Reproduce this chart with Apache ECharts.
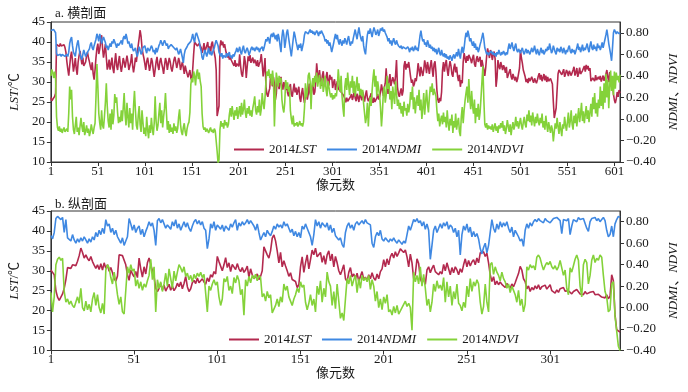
<!DOCTYPE html>
<html><head><meta charset="utf-8">
<script src="https://cdn.jsdelivr.net/npm/echarts@6/dist/echarts.min.js"></script>
<style>html,body{margin:0;padding:0;background:#fff}#c{width:688px;height:392px}</style>
</head><body><div id="c"></div>
<script>
// ---- a. 横剖面 (transverse profile), pixel index 1..607 ----
const topLST = [
26.1,25.3,24.8,25.6,26.4,27.2,
39.4,39.8,39.1,38.9,39.6,39.0,39.5,38.8,39.3,38.6,
37.4,35.1,33.2,31.6,34.0,36.4,
37.6,35.2,32.6,34.1,36.0,33.3,31.8,35.0,
36.6,37.8,36.0,34.4,36.1,34.0,
33.5,35.0,36.6,37.5,36.0,35.1,33.9,33.0,
34.9,32.1,30.6,33.0,36.1,38.4,
39.6,37.0,38.2,40.1,41.7,38.5,
36.1,37.6,39.5,36.2,33.1,34.0,35.6,33.1,
34.5,36.1,33.4,32.2,35.0,37.2,34.1,33.0,35.1,36.5,34.0,32.5,34.1,36.0,35.0,33.6,
34.0,36.6,35.1,33.0,32.5,35.0,37.0,34.1,32.4,34.0,36.1,35.0,
37.1,39.2,41.0,43.0,41.4,38.6,37.1,36.0,
34.6,33.0,35.1,36.1,34.5,32.8,34.0,36.0,35.1,33.0,31.3,33.1,
35.0,36.3,34.1,33.0,35.1,36.0,34.6,33.5,32.0,34.1,36.0,35.1,33.0,34.6,
36.0,35.1,33.5,32.6,34.0,35.5,36.3,35.0,33.5,34.6,36.0,35.1,33.0,34.1,
35.0,33.6,32.0,34.1,33.0,32.1,31.2,31.6,33.0,31.0,
30.4,33.2,37.0,40.0,39.5,40.5,39.0,38.8,39.6,40.0,
38.6,37.3,38.2,39.7,37.6,38.4,
39.1,40.0,37.6,38.9,37.1,39.5,40.1,38.3,37.2,36.0,33.0,
21.5,21.3,24.0,
38.8,40.4,39.2,40.1,38.6,39.5,38.0,
37.0,36.1,37.2,35.6,36.4,35.5,36.0,
35.2,34.0,35.5,33.8,34.6,35.0,33.9,
36.9,34.0,32.0,31.3,33.5,36.5,35.0,31.0,33.8,
36.4,35.2,36.7,34.8,35.5,36.1,34.7,35.6,35.0,
34.0,35.5,33.8,34.6,35.2,
37.0,34.5,31.4,33.2,36.0,
28.8,27.0,26.3,27.5,28.4,
31.8,30.0,28.9,31.2,29.5,25.5,
27.0,31.0,30.1,28.2,29.5,31.3,29.0,28.1,30.0,29.2,
28.0,29.7,27.3,26.4,28.5,29.5,27.0,26.3,28.1,29.6,27.4,28.6,26.8,27.9,
28.8,26.0,25.0,27.3,28.5,26.2,24.8,26.5,28.3,25.6,27.0,
29.6,27.2,26.4,28.6,29.4,26.8,27.5,30.0,
34.7,32.0,30.2,
33.0,30.5,29.0,31.6,32.7,30.0,28.9,31.2,32.5,30.4,29.1,31.8,30.6,
31.3,28.5,29.8,30.7,28.0,29.2,30.2,
28.3,27.8,28.5,27.5,28.0,27.2,26.5,
25.8,24.9,26.1,25.2,24.7,25.6,26.3,
27.0,25.5,26.4,28.0,26.0,25.2,27.1,26.0,25.0,27.5,26.3,25.4,27.6,26.2,25.1,26.8,27.9,
26.0,25.2,24.7,26.4,27.2,25.5,24.8,26.1,25.0,24.7,26.0,27.0,25.6,26.3,
27.5,29.4,28.0,26.5,28.6,29.7,33.4,29.2,27.0,
30.5,32.0,29.0,28.8,31.2,30.3,29.4,31.6,35.5,
28.8,27.0,26.3,27.5,28.4,26.6,27.8,
34.0,35.2,33.1,34.5,33.6,35.0,35.5,
31.3,29.8,30.6,28.9,29.5,31.0,30.2,
32.0,34.7,33.1,31.4,33.8,34.2,31.5,
33.0,35.4,34.1,32.2,35.0,33.6,32.0,
34.0,35.5,33.2,31.3,34.5,35.2,32.5,
28.0,25.6,24.8,26.0,25.2,27.5,
33.0,35.0,32.6,34.4,35.5,33.1,31.5,33.8,35.2,34.0,32.0,31.3,33.5,34.6,32.4,
33.8,31.5,30.2,31.8,28.8,30.5,29.7,
35.0,37.2,36.0,34.8,36.5,35.3,36.8,37.0,35.6,34.7,
36.0,36.8,34.5,33.8,35.7,36.5,35.0,
34.8,36.3,33.8,35.5,34.2,33.0,31.5,
33.6,36.5,38.4,37.2,36.0,38.0,37.1,35.5,36.8,37.6,35.8,
28.8,31.0,
35.5,34.0,33.2,35.0,34.6,33.0,34.2,33.5,
32.3,33.8,31.0,30.5,32.5,33.2,31.4,30.6,32.0,31.2,
30.4,31.3,30.0,30.8,31.0,33.5,
38.0,36.0,34.7,33.0,32.2,
31.3,30.0,30.8,29.7,31.0,30.2,29.9,31.3,30.4,29.8,30.9,31.2,29.7,30.5,
31.5,32.2,30.6,31.8,30.2,31.0,32.0,30.4,31.6,30.0,
31.3,30.2,29.7,30.9,31.0,29.5,
25.0,21.0,20.5,23.5,28.0,32.0,
33.0,32.6,33.4,31.8,32.5,33.2,31.3,32.0,33.0,32.4,31.5,32.8,33.3,31.6,32.1,
33.0,33.8,31.6,32.4,33.5,31.3,32.2,33.6,32.0,31.5,32.8,33.4,
34.0,32.6,34.3,33.2,34.0,32.8,33.5,
30.2,29.7,31.0,
31.0,30.2,31.7,30.5,30.0,31.3,30.6,31.5,30.1,30.8,31.6,30.3,31.0,32.0,
33.0,31.2,30.0,32.5,29.4,28.8,30.0,
27.0,25.5,24.7,25.8,
27.5,26.3,28.0,27.2
];
const topNDMI = [
0.82,0.83,0.82,0.83,0.82,0.80,
0.61,0.59,0.60,0.59,0.60,0.58,0.60,0.59,0.60,0.58,0.59,0.60,0.58,0.62,
0.70,0.74,0.76,0.68,0.62,0.60,0.58,0.65,0.70,0.73,
0.66,0.60,0.57,0.55,0.60,0.64,0.63,0.58,0.60,0.62,
0.61,0.65,0.69,0.71,0.66,0.64,0.68,0.67,0.74,0.79,
0.76,0.72,0.79,0.75,0.70,0.73,0.76,0.77,0.71,0.66,
0.68,0.64,0.65,0.70,0.67,0.72,0.70,0.74,0.74,0.69,
0.66,0.70,0.68,0.67,0.71,0.73,0.69,0.75,0.77,0.74,
0.79,0.75,0.70,0.72,0.68,0.66,0.70,0.65,0.63,0.62,
0.66,0.61,0.58,0.62,0.67,0.64,0.60,0.62,0.66,0.65,
0.68,0.64,0.61,0.66,0.65,0.63,0.63,0.68,0.66,0.62,
0.64,0.60,0.66,0.62,0.65,0.68,0.70,0.73,0.72,0.68,
0.71,0.73,0.72,0.68,0.70,0.65,0.67,0.66,0.69,0.70,
0.69,0.66,0.67,0.64,0.66,0.63,0.60,0.62,0.65,0.61,
0.57,0.52,0.60,0.64,0.65,0.67,0.69,0.68,0.69,0.72,
0.75,0.79,0.74,0.71,0.78,0.80,0.80,0.79,0.72,0.66,
0.63,0.57,0.55,0.60,0.64,0.61,0.58,0.62,0.66,0.60,
0.63,0.59,0.61,0.64,0.66,0.70,0.73,0.72,0.68,0.62,
0.60,0.58,0.61,0.56,0.59,0.60,0.57,0.61,0.58,0.60,
0.62,0.57,0.59,0.56,0.60,0.58,0.61,0.63,0.66,0.62,
0.64,0.67,0.62,0.60,0.65,0.68,0.63,0.61,0.64,0.66,
0.63,0.59,0.62,0.65,0.67,0.64,0.66,0.63,0.65,0.67,
0.64,0.66,0.62,0.65,0.64,0.67,0.63,0.66,0.70,0.74,
0.72,0.76,0.74,0.70,0.77,0.79,0.76,0.80,0.77,0.74,
0.78,0.72,0.79,0.75,0.68,0.62,0.76,0.83,0.78,0.66,
0.72,0.80,0.83,0.76,0.70,0.64,0.58,0.66,0.74,0.81,
0.77,0.72,0.68,0.64,0.69,0.66,0.70,0.63,0.67,0.71,
0.78,0.81,0.80,0.82,0.79,0.81,0.83,0.80,0.82,0.79,
0.81,0.78,0.80,0.82,0.80,0.77,0.81,0.79,0.82,0.80,
0.78,0.76,0.72,0.74,0.70,0.73,0.68,0.71,0.67,0.62,
0.66,0.70,0.75,0.79,0.74,0.78,0.72,0.69,0.74,0.71,
0.68,0.73,0.70,0.75,0.72,0.69,0.74,0.77,0.71,0.68,
0.72,0.70,0.75,0.79,0.83,0.78,0.74,0.80,0.85,0.79,
0.75,0.72,0.77,0.68,0.63,0.60,0.70,0.78,0.82,0.79,
0.84,0.80,0.76,0.81,0.85,0.82,0.78,0.80,0.83,0.77,
0.80,0.84,0.82,0.85,0.81,0.83,0.80,0.79,0.76,0.72,
0.75,0.70,0.73,0.68,0.72,0.75,0.71,0.69,0.73,0.70,
0.68,0.67,0.66,0.68,0.65,0.67,0.66,0.68,0.65,0.64,
0.67,0.65,0.62,0.66,0.64,0.67,0.63,0.65,0.68,0.64,
0.66,0.63,0.70,0.77,0.82,0.76,0.72,0.74,0.69,0.71,
0.67,0.73,0.70,0.66,0.69,0.65,0.67,0.63,0.66,0.62,
0.65,0.60,0.63,0.66,0.61,0.59,0.64,0.60,0.58,0.61,
0.57,0.60,0.56,0.58,0.55,0.59,0.57,0.54,0.58,0.60,
0.56,0.59,0.62,0.58,0.65,0.60,0.56,0.63,0.67,0.61,
0.66,0.74,0.80,0.76,0.82,0.78,0.72,0.75,0.71,0.68,
0.72,0.66,0.70,0.64,0.67,0.62,0.65,0.69,0.72,0.76,
0.80,0.74,0.66,0.63,0.60,0.62,0.59,0.61,0.60,0.63,
0.60,0.62,0.59,0.61,0.58,0.62,0.60,0.64,0.61,0.59,
0.62,0.60,0.63,0.61,0.59,0.62,0.60,0.66,0.70,0.65,
0.68,0.71,0.66,0.63,0.67,0.70,0.64,0.62,0.65,0.63,
0.61,0.64,0.66,0.62,0.60,0.63,0.65,0.61,0.64,0.62,
0.60,0.63,0.66,0.62,0.64,0.68,0.63,0.60,0.65,0.62,
0.59,0.63,0.66,0.61,0.64,0.60,0.62,0.65,0.63,0.67,
0.64,0.70,0.66,0.61,0.63,0.68,0.65,0.62,0.60,0.66,
0.63,0.65,0.62,0.67,0.64,0.61,0.66,0.63,0.60,0.64,
0.62,0.66,0.68,0.63,0.61,0.65,0.62,0.64,0.60,0.63,
0.66,0.70,0.64,0.67,0.62,0.65,0.69,0.63,0.66,0.64,
0.67,0.70,0.65,0.62,0.68,0.72,0.66,0.64,0.69,0.65,
0.67,0.63,0.70,0.66,0.68,0.64,0.67,0.71,0.66,0.70,
0.74,0.78,0.83,0.77,0.70,0.65,0.60,0.54,0.66,0.80,
0.83,0.82,0.79,0.81,0.80,0.79,0.80
];
const topNDVI = [
0.40,0.46,0.43,0.38,0.44,0.37,
0.02,-0.08,-0.11,-0.07,-0.12,-0.09,-0.13,-0.10,-0.08,-0.12,-0.11,-0.09,-0.12,0.05,
0.30,0.18,0.27,0.02,-0.10,-0.14,-0.06,0.02,-0.12,-0.08,
-0.15,-0.16,0.01,-0.07,-0.12,-0.03,-0.15,-0.11,-0.06,-0.13,
-0.09,-0.16,-0.12,-0.05,-0.10,-0.14,-0.08,-0.04,0.20,0.51,
0.30,0.05,-0.04,-0.10,0.08,-0.06,-0.09,0.02,0.15,0.33,
0.12,-0.02,-0.08,0.05,-0.10,0.09,-0.05,0.03,0.23,0.15,
0.20,0.06,-0.04,0.02,-0.03,0.08,-0.02,0.10,0.24,0.04,
-0.06,0.15,0.02,-0.08,0.10,-0.04,0.05,-0.10,0.12,0.26,
0.08,-0.06,-0.10,0.03,0.12,-0.05,-0.12,0.08,-0.03,-0.14,
-0.08,-0.16,0.02,-0.10,-0.18,-0.06,-0.13,0.01,-0.09,-0.15,
-0.04,0.21,-0.02,-0.11,-0.06,0.05,0.15,-0.04,0.08,-0.08,
0.02,0.10,0.24,0.06,-0.10,-0.02,-0.13,-0.05,-0.12,-0.08,
-0.14,-0.04,-0.11,-0.07,-0.13,-0.09,0.02,0.09,-0.05,-0.12,
-0.15,-0.08,-0.04,-0.12,-0.16,-0.09,-0.05,-0.03,0.06,0.32,
0.38,0.34,0.44,0.40,0.31,0.42,0.46,0.37,0.43,0.35,
0.30,0.05,-0.07,-0.10,-0.08,-0.12,-0.09,-0.11,-0.13,-0.10,
-0.08,-0.12,-0.10,-0.13,-0.09,-0.11,-0.12,-0.30,-0.41,-0.38,
-0.10,-0.02,-0.07,-0.04,-0.09,-0.01,-0.06,-0.03,-0.08,-0.05,
0.04,0.10,0.02,0.12,0.05,-0.01,0.08,0.03,0.11,0.00,
0.06,0.12,0.02,0.15,0.04,0.09,0.18,0.06,0.01,0.10,
0.05,0.12,0.03,0.08,0.02,0.10,0.15,0.21,0.08,0.04,
0.12,0.06,0.18,0.03,0.09,0.24,0.15,0.09,0.20,0.35,
0.44,0.40,0.46,0.38,0.42,0.31,0.45,0.36,-0.07,0.20,
0.43,0.37,0.30,0.40,0.34,0.38,0.18,0.10,0.06,0.15,
0.36,0.28,0.34,0.25,0.30,0.08,0.00,-0.05,0.03,-0.07,
-0.04,-0.06,-0.03,-0.07,-0.05,-0.02,-0.06,-0.04,-0.07,-0.03,
0.10,0.33,0.20,0.25,0.40,0.43,0.35,0.09,0.32,0.38,
0.30,0.40,0.34,0.43,0.30,0.36,0.41,0.28,0.33,0.38,
0.25,0.31,0.40,0.27,0.21,0.35,0.30,0.24,0.20,0.24,
0.18,0.22,0.19,0.24,0.21,0.30,0.46,0.35,0.25,0.40,
0.21,0.10,0.02,0.30,0.38,0.27,0.43,0.32,0.22,0.35,
0.29,0.40,0.24,0.35,0.21,0.30,0.39,0.26,0.33,0.22,
0.28,0.21,0.27,0.14,0.05,-0.04,0.02,0.15,-0.07,0.10,
0.20,0.12,0.26,0.38,0.46,0.30,0.40,0.21,0.35,0.28,
0.22,0.10,-0.07,0.06,0.25,0.30,0.15,0.22,0.40,0.28,
0.33,0.18,0.26,0.09,0.30,0.21,0.14,0.35,0.24,0.12,
0.18,0.09,0.15,0.05,0.12,0.02,0.16,0.08,0.10,0.03,
0.14,0.06,0.12,0.25,0.18,0.30,0.09,0.20,0.05,0.15,
0.22,0.12,0.27,0.08,0.18,0.00,0.10,0.24,0.04,0.16,
0.27,0.14,0.06,0.20,0.30,0.25,0.33,0.22,0.28,0.24,
0.21,0.08,-0.02,0.05,-0.07,-0.01,0.03,-0.05,0.06,-0.03,
0.02,-0.08,0.08,-0.04,-0.11,0.00,-0.06,0.04,-0.13,-0.02,
-0.08,0.05,-0.10,-0.03,0.01,-0.12,-0.16,0.02,0.11,-0.04,
0.08,0.17,0.24,0.30,0.15,0.37,0.20,0.09,0.26,0.12,
0.05,0.18,-0.04,0.10,0.02,0.14,-0.01,0.06,0.20,0.35,
0.49,0.18,-0.05,-0.08,-0.04,-0.10,-0.06,-0.09,-0.07,-0.10,
-0.05,-0.12,-0.08,-0.04,-0.11,-0.07,-0.13,-0.06,-0.09,-0.04,
-0.08,-0.02,-0.11,-0.06,-0.14,-0.09,-0.01,-0.07,-0.12,-0.05,
-0.15,-0.08,-0.03,-0.10,-0.06,0.02,-0.07,-0.02,-0.09,-0.04,
0.01,-0.06,-0.10,-0.03,0.02,-0.05,-0.08,0.04,-0.02,0.08,
-0.03,0.03,-0.06,0.06,-0.01,-0.07,0.02,-0.04,0.05,-0.02,
-0.06,0.01,-0.04,0.05,-0.08,-0.02,-0.10,0.03,-0.05,-0.12,
-0.03,-0.08,-0.13,-0.06,-0.10,-0.21,-0.12,-0.04,-0.09,0.01,
-0.07,-0.14,-0.03,-0.10,-0.16,-0.05,-0.09,0.02,-0.06,-0.11,
-0.03,0.06,-0.08,-0.02,0.08,-0.05,-0.10,0.03,-0.04,0.05,
-0.07,0.02,0.10,-0.03,0.05,0.15,-0.02,0.07,-0.04,0.04,
0.12,0.00,0.08,-0.03,0.06,0.14,0.02,0.20,0.09,0.24,
0.05,0.15,0.02,0.18,0.10,0.30,0.12,0.26,0.09,0.33,
0.15,0.42,0.20,0.36,0.10,0.30,0.45,0.26,0.40,0.22,
0.44,0.28,0.43,0.36,0.40,0.34,0.41
];
// ---- b. 纵剖面 (longitudinal profile), pixel index 1..343 ----
const botLST = [
30.2,29.6,29.0, 25.0,23.4, 22.6,22.4, 24.2,25.6,27.8,
30.8,31.2,30.6,31.5, 32.0,31.3,32.4,33.8, 35.7,34.6,33.2,
34.0,33.1,32.5,33.6,32.3, 31.4,30.6,31.5,30.3,
31.8,30.2,32.0,30.6,31.5,29.9,30.8, 29.5,28.0,27.4,28.7,
34.0,34.3,33.8,34.1, 31.5,29.0,27.6,30.2, 29.2,28.5,29.8,28.3,
33.2,30.5,28.4,31.0,29.2,32.0, 33.2,31.5,30.0,28.5, 25.6,24.8,
25.6,26.8,25.2,26.4,24.9,25.8,26.6,25.1,26.2,25.0,25.7,26.9,
26.0,27.2,25.5,26.8,28.6,26.0,24.8,
25.5,27.0,27.6,26.8,28.2,27.0,26.5,28.0,27.2,26.6,
28.2,27.3,29.0,28.4,29.8,29.2, 33.6,32.3,32.8,
30.0,31.5,33.3,30.8,32.0,29.8,31.6,
32.0,30.3,31.8,30.5,29.8,30.8,29.6,30.2,
31.2,28.4,30.5,29.0,28.0,27.5,29.2,27.8, 28.6,30.0,
36.0,36.5,34.0, 33.2,35.0, 38.2,39.0,37.5, 35.0,32.0,34.6,31.0,
32.5,31.2,30.0, 28.6,29.5,27.8,28.3,27.3, 25.8,26.5,
31.0,33.5,29.6,32.0,34.0,30.5,32.8, 35.2,34.0,35.7,33.5,
33.0,34.6,32.1,33.8,31.6,34.0, 35.0,32.5,34.2,31.0,33.6,32.0,
30.0,29.0,30.2,31.5, 28.0,27.3,29.6,30.8,28.5,29.2,
28.0,29.4,27.4,28.6,29.8,27.8, 28.4,27.5,29.0,28.0,
29.5,28.2,27.6,29.2,28.0,29.8, 30.5,32.8,31.0,33.0,31.5,
33.5,34.4,33.2,34.8,33.6,34.5, 35.5,36.0,34.6,35.2, 33.5,31.0,34.2,32.0,
28.0,29.2, 33.0,31.8, 28.0,27.0,28.2,26.6,
30.2,31.0,29.5,30.6,31.4,29.8, 29.5,29.0,29.8,29.2, 31.6,30.0,32.0,30.5,
29.0,30.8,29.5,31.0, 30.2,29.0,30.5,29.6, 31.5,33.0,31.0,32.6,31.2,32.2,
32.8,31.5,33.2,32.0, 34.5,34.0,34.8,33.6, 34.4,32.0,
29.0,27.3,28.5,26.5, 27.4,26.5,27.2,26.6, 27.0,25.8,26.8,26.2,25.6,26.7,
26.0,27.0,28.2,29.3, 31.1,30.2,28.0, 27.3,25.5,26.2,24.8,25.8,25.2,
26.2,25.5,26.5,25.3,26.0,25.6,26.4,25.4, 25.8,26.5,25.0,25.5,24.4,25.2,24.6,25.5,
25.0,25.8,24.9,24.4,25.0,24.6, 24.2,24.8,24.3,25.3,24.8,24.2,
24.6,24.0,24.8,24.2,23.8,24.6, 24.2,24.8,24.0,24.5,24.1,23.8,
23.4,23.8,23.2,24.0,23.0,23.6, 29.0,27.5, 19.0,15.2,14.8,14.6
];
const botNDMI = [
0.67,0.64,0.70, 0.83,0.85,0.84,0.82,0.84, 0.70,0.82, 0.65,0.66,0.62,0.68,
0.63,0.60,0.64,0.61,0.65,0.62,0.66,0.63,0.60,0.64,0.61,0.66,0.63,
0.70,0.66,0.72,0.68,0.74,0.69, 0.82,0.76, 0.78,0.70,0.74,0.68,0.72,0.66,
0.63,0.60,0.65,0.58,0.62,0.66, 0.83,0.78, 0.72,0.77,0.70,0.74,
0.76,0.68,0.73,0.66,0.71,0.75, 0.80,0.76,0.79,0.72, 0.58,
0.81,0.83,0.79,0.82,0.78, 0.74,0.77,0.75,0.73, 0.80,0.76,0.82,0.74,
0.78,0.72,0.76,0.80,0.75, 0.79,0.74,0.71,0.76, 0.80,0.82,0.78,0.81,0.77,0.80,
0.74,0.72, 0.55,0.64, 0.78,0.74,0.80,0.72,0.77,0.75, 0.73,0.77,0.71,0.76,0.74,0.72,
0.78,0.75,0.79, 0.82,0.72,0.79, 0.76,0.80,0.77,0.79, 0.82,0.78,0.81,0.80,
0.76,0.72,0.78,0.70, 0.63,0.62, 0.70,0.66,0.72,0.69,0.67,0.71, 0.76,0.73,0.78,0.75,0.77,0.74,
0.80,0.76,0.78,0.74, 0.70,0.73,0.67,0.71, 0.66,0.70,0.65, 0.76,0.73,0.78,0.74,0.70,
0.66,0.58,0.68, 0.82,0.76,0.80,0.74,0.79,0.77, 0.75,0.79,0.72,0.77,0.70,0.74,
0.67,0.68,0.63,0.65, 0.59,0.56, 0.70,0.76,0.79, 0.74,0.77,0.72, 0.78,0.80,0.77,0.79,
0.81,0.78,0.82,0.79,0.80,0.77, 0.60,0.56,0.66, 0.70,0.67,0.72,
0.64,0.62,0.65,0.63,0.61,0.64,0.62,0.65, 0.62,0.60,0.63,0.61, 0.59,0.62,0.60,0.68,
0.76,0.72,0.77, 0.82,0.80,0.83,0.79, 0.81,0.76,0.80,0.73,0.78,0.72, 0.45,0.58,
0.72,0.76,0.70,0.74, 0.78,0.74,0.79,0.76,0.80,0.73,0.77,0.75, 0.70,0.74,0.66,0.72, 0.49,
0.68,0.76,0.72,0.78,0.70,0.75,0.66, 0.71,0.66,0.69,0.64, 0.55,0.50,0.56,0.60, 0.51,0.58,
0.70,0.82,0.74,0.70, 0.78,0.73,0.80,0.75, 0.79,0.76,0.80,0.74, 0.70,0.75,0.66,0.72,0.69,
0.66,0.62,0.64,0.57, 0.72,0.78,0.74,0.79,0.76,0.80, 0.82,0.80,0.83,0.81,0.82,0.79,0.83,0.81,
0.82,0.79,0.80,0.83, 0.82,0.84,0.83,0.81, 0.69, 0.82,0.83,0.81,0.83, 0.68,0.76,
0.82,0.83,0.80,0.84,0.82,0.81,0.83,0.82, 0.74,0.71,
0.80,0.83,0.82,0.84,0.81,0.83,0.80,0.82,0.84,0.81, 0.72,0.66,0.68, 0.76,0.66, 0.78,0.82,0.85,0.84
];
const botNDVI = [
0.14,-0.04,0.10, 0.40,0.45,0.47,0.44,0.46, 0.15,0.05, 0.08,0.03,0.06,0.02, 0.00,-0.01,
0.10,0.04,0.18,0.00,-0.03,0.06, -0.02,0.03,-0.04,0.08, 0.14,0.02,0.12,0.00,
-0.05,0.04,-0.06, 0.35,0.40,0.37, 0.28,0.22,0.33,0.24, 0.12,0.03,0.10,-0.04, -0.06,-0.05,
0.38,0.32,0.40,0.34,0.36, 0.20,0.26, 0.18,0.24,0.16,0.22,0.19,0.25, 0.30,0.45,0.26,0.38, -0.04,
0.26,0.18,0.24,0.15,0.22, 0.32,0.20,0.36,0.27,0.18,0.34,0.25,0.33,
0.40,0.37,0.33,0.38,0.29, 0.32,0.26,0.30,0.24,0.31,0.27, 0.32,0.29,0.33,0.28,0.31,0.30,
-0.04, 0.20,0.16,0.22, 0.26,0.21,0.24, 0.10,0.02,0.08, 0.27,0.24,0.29, 0.16,0.20,0.13,
0.28,0.23,0.30,0.25, 0.12,0.17,-0.07, 0.26,0.20,0.29,0.23,0.30, 0.27,0.31,0.25,0.30,0.28,0.10,
0.13,0.06,0.15,0.09,0.12, -0.05,-0.04,0.02, 0.08,0.01,0.10,0.05, 0.22,0.16,0.20,0.10,
0.06,0.02,0.08,0.12, 0.18,0.14,0.24,0.19,0.21, 0.05,-0.02,0.04, 0.12,0.02,0.08,-0.04,
0.20,0.12,0.25,0.05,0.18,0.10, 0.33,0.24, 0.20,0.02,0.15,-0.01,0.22,0.06,
-0.10,-0.05,-0.12,0.08, 0.27,0.22,0.30,0.20,0.26, 0.30,0.14,0.27,0.18, 0.30,0.25,0.28,0.24,
0.30,0.17,0.26,0.20, 0.06,0.15,0.00,0.08,-0.02, 0.10,0.04,0.12,-0.04,
-0.02,-0.07,0.01,-0.05,0.02,-0.06,-0.03,0.00, 0.03,0.06,0.01,0.04,0.00,-0.21,
0.33,0.24,0.30,0.22, 0.38,0.20,0.31,0.18, 0.02,0.08,-0.04,0.05,
0.22,0.15,0.25,0.18,0.21,0.16, 0.28,0.05,0.24,0.10, 0.20,0.02,0.15,0.08,0.22,0.04,
0.02,-0.03,0.05,0.00, 0.20,0.10,0.27,0.15, 0.24,0.20,0.26,0.22, 0.05,-0.06,0.01,0.22, 0.05,-0.04,
0.40,0.42,0.31,0.38,0.33, 0.30,0.25,0.33,0.27, 0.24,0.18,0.22,0.14,0.20,0.16,
0.12,0.05,0.16,0.02,0.08, -0.04,0.03, 0.38,0.35,0.40,0.37,0.39,0.35, 0.47,0.49,0.46,0.40,
0.35,0.39,0.42,0.40,0.43, 0.38,0.36,0.39,0.35,0.38, 0.44,0.45, 0.30,0.35, 0.18,0.12,
0.37,0.33,0.39,0.45, 0.49,0.44, 0.20,0.10, 0.40,0.45,0.42, 0.22,0.30, 0.44,0.49,0.42,
0.46,0.44,0.49,0.47, 0.30,0.15,0.10, -0.04,-0.02, 0.22,0.24, -0.08,-0.22,-0.36,-0.40
];
const seriesNames = ['2014LST', '2014NDMI', '2014NDVI'];
const panelTitles = ['a. 横剖面', 'b. 纵剖面'];
const xName = '像元数';
const leftTicks = {min: 10, max: 45, step: 5};
const rightTicks = {min: -0.4, max: 0.9, step: 0.2};
const xLabelStep = 50;

const colors = ['#b3294e', '#3f88e2', '#84d23a'];
const SERIF = '"Liberation Serif","Noto Sans CJK SC",serif';
const TXT = '#1a1a1a';

function cats(n) { const a = []; for (let i = 1; i <= n; i++) a.push(String(i)); return a; }

const chart = echarts.init(document.getElementById('c'), null, {renderer: 'canvas'});

const grids = [
  {left: 42, right: 66, top: 22, height: 140},
  {left: 42, right: 66, top: 211, height: 139.5}
];
const panels = [
  {lst: topLST, ndmi: topNDMI, ndvi: topNDVI},
  {lst: botLST, ndmi: botNDMI, ndvi: botNDVI}
];

const xAxes = [], yAxes = [], series = [];
panels.forEach((p, g) => {
  const n = Math.max(p.lst.length, p.ndmi.length, p.ndvi.length);
  xAxes.push({
    type: 'category', gridIndex: g, data: cats(n), boundaryGap: false,
    name: xName, nameLocation: 'middle', nameGap: 17,
    nameTextStyle: {fontFamily: SERIF, fontSize: 13, color: TXT},
    axisLine: {onZero: false, lineStyle: {color: '#333', width: 1}},
    axisTick: {show: true, length: 4, interval: (i) => i % xLabelStep === 0, lineStyle: {color: '#333'}},
    axisLabel: {interval: (i) => i % xLabelStep === 0, margin: 3, fontFamily: SERIF, fontSize: 13, color: TXT},
    splitLine: {show: false}
  });
  yAxes.push({
    type: 'value', gridIndex: g, position: 'left',
    min: leftTicks.min, max: leftTicks.max, interval: leftTicks.step,
    name: '{i|LST}{n|/℃}', nameLocation: 'middle', nameGap: 23,
    nameTextStyle: {rich: {
      i: {fontFamily: SERIF, fontSize: 13, fontStyle: 'italic', color: TXT},
      n: {fontFamily: SERIF, fontSize: 13, color: TXT}}},
    axisLine: {show: true, onZero: false, lineStyle: {color: '#333'}},
    axisTick: {show: true, length: 4, lineStyle: {color: '#333'}},
    axisLabel: {margin: 6, fontFamily: SERIF, fontSize: 13, color: TXT},
    splitLine: {show: false}
  });
  yAxes.push({
    type: 'value', gridIndex: g, position: 'right',
    min: rightTicks.min, max: rightTicks.max, interval: rightTicks.step,
    name: '{i|NDMI}{n|、}{i|NDVI}', nameLocation: 'middle', nameGap: 35,
    nameTextStyle: {rich: {
      i: {fontFamily: SERIF, fontSize: 13, fontStyle: 'italic', color: TXT},
      n: {fontFamily: SERIF, fontSize: 13, color: TXT}}},
    axisLine: {show: true, onZero: false, lineStyle: {color: '#333'}},
    axisTick: {show: true, length: 4, lineStyle: {color: '#333'}},
    axisLabel: {margin: 6, fontFamily: SERIF, fontSize: 13, color: TXT, showMaxLabel: false,
      formatter: (v) => v > 0.85 ? '' : (v < 0 ? '\u2212' + Math.abs(v).toFixed(2) : v.toFixed(2))},
    splitLine: {show: false}
  });
  const vals = [p.lst, p.ndmi, p.ndvi];
  vals.forEach((d, k) => {
    series.push({
      name: seriesNames[k], type: 'line', xAxisIndex: g, yAxisIndex: g * 2 + (k === 0 ? 0 : 1),
      data: d, symbol: 'none', showSymbol: false, animation: false,
      lineStyle: {width: 1.6, color: colors[k]}, itemStyle: {color: colors[k]},
      z: 2 + k
    });
  });
});

const legendRich = {
  a: {fontFamily: SERIF, fontSize: 13, color: TXT},
  b: {fontFamily: SERIF, fontSize: 13, fontStyle: 'italic', color: TXT}
};
function legendFmt(n) { return '{a|' + n.slice(0, 4) + '}{b|' + n.slice(4) + '}'; }
const legendItems = seriesNames.map(n => ({name: n, icon: 'rect'}));

chart.setOption({
  backgroundColor: '#fff',
  animation: false,
  color: colors,
  title: [
    {text: panelTitles[0], left: 50, top: 2, textStyle: {fontFamily: SERIF, fontSize: 13, fontWeight: 'normal', color: TXT}},
    {text: panelTitles[1], left: 50, top: 193, textStyle: {fontFamily: SERIF, fontSize: 13, fontWeight: 'normal', color: TXT}}
  ],
  grid: grids.map(g => Object.assign({show: true, borderColor: '#333', borderWidth: 1, backgroundColor: 'transparent'}, g)),
  legend: [
    {left: 229, top: 138, itemWidth: 30, itemHeight: 2, itemGap: 11, data: legendItems,
     formatter: legendFmt, textStyle: {rich: legendRich}},
    {left: 224, top: 328, itemWidth: 30, itemHeight: 2, itemGap: 11, data: legendItems,
     formatter: legendFmt, textStyle: {rich: legendRich}}
  ],
  xAxis: xAxes,
  yAxis: yAxes,
  series: series
});
</script>
</body></html>
